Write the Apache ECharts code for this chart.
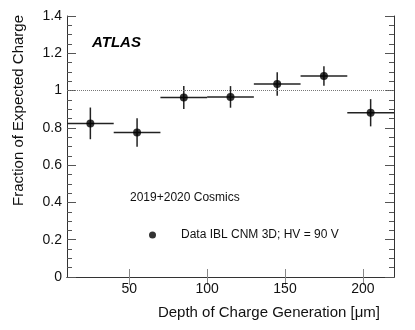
<!DOCTYPE html>
<html>
<head>
<meta charset="utf-8">
<script src="https://cdn.jsdelivr.net/npm/echarts@6/dist/echarts.min.js"></script>
<style>
  html, body { margin: 0; padding: 0; background: #fff; }
  #main { width: 415px; height: 330px; }
</style>
</head>
<body>
<div id="main"></div>
<script>
// bins of charge generation depth [um]
var binCenters = [25, 55, 85, 115, 145, 175, 205];
var binHalfWidth = [15, 15, 15, 15, 15, 15, 15];
// fraction of expected charge and its uncertainty
var fraction = [0.824, 0.775, 0.963, 0.966, 1.035, 1.078, 0.881];
var fractionErr = [0.085, 0.077, 0.062, 0.058, 0.063, 0.052, 0.073];
var xTicks = [50, 100, 150, 200];
var seriesName = 'Data IBL CNM 3D; HV = 90 V';

var font = '"Liberation Sans", Arial, Helvetica, sans-serif';
var myChart = echarts.init(document.getElementById('main'));

var points = binCenters.map(function (c, i) { return [c, fraction[i]]; });
var bars = binCenters.map(function (c, i) {
    return [c, fraction[i], binHalfWidth[i], fractionErr[i]];
});

function xAxisOpt(pos) {
    return {
        type: 'value', position: pos, min: 10, max: 220,
        axisLine: { show: true, lineStyle: { color: '#333', width: 1 } },
        axisTick: { show: true, inside: true, length: 8, customValues: xTicks,
                    lineStyle: { color: '#888' } },
        axisLabel: { show: pos === 'bottom', customValues: xTicks, margin: 5,
                     color: '#111', fontSize: 14, fontFamily: font },
        splitLine: { show: false }
    };
}
function yAxisOpt(pos) {
    return {
        type: 'value', position: pos, min: 0, max: 1.4, interval: 0.2,
        axisLine: { show: true, lineStyle: { color: '#333', width: 1 } },
        axisTick: { show: true, inside: true, length: 9, lineStyle: { color: '#555' } },
        minorTick: { show: true, splitNumber: 4, length: 5, lineStyle: { color: '#555' } },
        axisLabel: { show: pos === 'left', margin: 5, color: '#111', fontSize: 14, fontFamily: font },
        splitLine: { show: false }
    };
}

var option = {
    animation: false,
    grid: { left: 67, right: 21, top: 16, bottom: 53 },
    xAxis: [xAxisOpt('bottom'), xAxisOpt('top')],
    yAxis: [yAxisOpt('left'), yAxisOpt('right')],
    legend: {
        left: 144, top: 224,
        itemWidth: 23, itemHeight: 7, itemGap: 0,
        icon: 'circle',
        textStyle: { fontSize: 12, fontFamily: font, color: '#111', padding: [0, 0, 0, 12] },
        data: [seriesName]
    },
    graphic: [
        { type: 'text', left: 92, top: 35,
          style: { text: 'ATLAS', font: 'italic bold 15px ' + font, fill: '#000' } },
        { type: 'text', left: 130, top: 192,
          style: { text: '2019+2020 Cosmics', font: '12px ' + font, fill: '#111' } },
        { type: 'text', x: 380, y: 313,
          style: { text: 'Depth of Charge Generation [\u03bcm]', font: '15px ' + font,
                   fill: '#111', align: 'right', verticalAlign: 'middle' } },
        { type: 'text', x: 19, y: 15, rotation: Math.PI / 2,
          style: { text: 'Fraction of Expected Charge', font: '15px ' + font,
                   fill: '#111', align: 'right', verticalAlign: 'middle' } }
    ],
    series: [
        {
            type: 'custom',
            renderItem: function (params, api) {
                var x = api.value(0), y = api.value(1), dx = api.value(2), dy = api.value(3);
                var l = api.coord([x - dx, y]), r = api.coord([x + dx, y]);
                var t = api.coord([x, y + dy]), b = api.coord([x, y - dy]);
                var st = { stroke: '#222', lineWidth: 1.5 };
                return {
                    type: 'group',
                    children: [
                        { type: 'line', shape: { x1: l[0], y1: l[1], x2: r[0], y2: r[1] }, style: st },
                        { type: 'line', shape: { x1: t[0], y1: t[1], x2: b[0], y2: b[1] }, style: st }
                    ]
                };
            },
            data: bars,
            z: 2
        },
        {
            name: seriesName,
            type: 'scatter',
            symbol: 'circle',
            symbolSize: 8,
            itemStyle: { color: '#000' },
            data: points,
            z: 3,
            markLine: {
                silent: true, symbol: 'none',
                label: { show: false },
                lineStyle: { color: '#777', type: 'dotted', width: 1 },
                data: [{ yAxis: 1 }]
            }
        }
    ]
};
myChart.setOption(option);
</script>
</body>
</html>
